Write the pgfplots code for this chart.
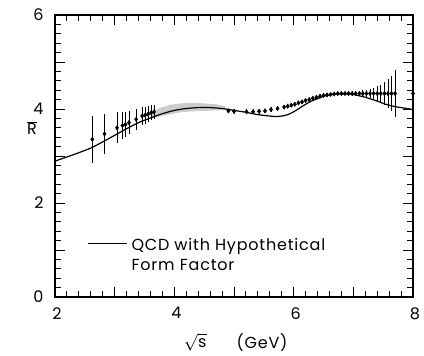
\documentclass[border=0pt]{standalone}
\usepackage{pgfplots}
\pgfplotsset{compat=1.18}
\usepackage{fontspec}
\setmainfont{Poppins}
\newfontfamily\legfont[LetterSpace=5]{Poppins}
\begin{document}
\fontsize{16}{19}\selectfont
\begin{tikzpicture}
\begin{axis}[
  at={(0,0)}, anchor=south west,
  scale only axis, width=358pt, height=282pt,
  xmin=2, xmax=8, ymin=0, ymax=6,
  clip=false,
  axis line style={line width=1.1pt},
  xtick={2,3,4,5,6,7,8}, xticklabels={2,,4,,6,,8},
  ytick={0,1,2,3,4,5,6}, yticklabels={0,,2,,4,,6},
  minor x tick num=4, minor y tick num=4,
  major tick length=10pt, minor tick length=6pt,
  tick style={line width=0.9pt, black},
  tick align=inside,
  /pgf/number format/assume math mode=true,
  ticklabel style={font=\fontsize{16}{18}\selectfont},
  xticklabel style={yshift=-5pt, xshift=2pt},
  yticklabel style={xshift=-6pt},
]
% shaded band
\addplot[fill=gray!40, draw=none] coordinates {
(3.62,3.93) (3.75,4.02) (3.9,4.08) (4.1,4.12) (4.3,4.13) (4.5,4.12) (4.7,4.10) (4.85,4.06)
(4.85,3.98) (4.7,3.97) (4.5,3.96) (4.3,3.95) (4.1,3.93) (3.9,3.88) (3.75,3.84) (3.62,3.80)
};
% QCD curve
\addplot[black, line width=1.2pt, smooth] coordinates {
(2.0,2.89) (2.2,2.98) (2.4,3.07) (2.6,3.17) (2.8,3.30) (3.0,3.44) (3.2,3.58) (3.4,3.71)
(3.6,3.81) (3.8,3.90) (4.0,3.97) (4.2,4.01) (4.4,4.03) (4.6,4.03) (4.8,4.01) (5.0,3.97)
(5.2,3.93) (5.4,3.88) (5.6,3.85) (5.7,3.84) (5.8,3.85) (5.9,3.88) (6.0,3.94) (6.1,4.02)
(6.2,4.10) (6.3,4.17) (6.4,4.22) (6.5,4.27) (6.6,4.30) (6.7,4.32) (6.8,4.32) (6.9,4.32)
(7.0,4.31) (7.1,4.28) (7.2,4.25) (7.3,4.21) (7.4,4.17) (7.5,4.12) (7.6,4.08) (7.7,4.05)
(7.8,4.03) (7.9,4.01) (8.0,3.99)
};
% data points
\addplot[only marks, mark=diamond*, mark size=2.2pt, black,
  error bars/.cd, y dir=both, y explicit, error mark=none,
  error bar style={line width=0.8pt, black}]
coordinates {
(2.625,3.355) +- (0,0.50)
(2.83,3.47) +- (0,0.42)
(3.04,3.60) +- (0,0.33)
(3.13,3.65) +- (0,0.29)
(3.18,3.67) +- (0,0.27)
(3.24,3.71) +- (0,0.25)
(3.36,3.78) +- (0,0.22)
(3.46,3.85) +- (0,0.20)
(3.51,3.87) +- (0,0.18)
(3.56,3.89) +- (0,0.17)
(3.61,3.92) +- (0,0.16)
(3.66,3.94) +- (0,0.15)
(4.905,3.96) +- (0,0.05)
(5.00,3.95) +- (0,0.05)
(5.21,3.94) +- (0,0.05)
(5.32,3.94) +- (0,0.05)
(5.42,3.95) +- (0,0.05)
(5.52,3.96) +- (0,0.05)
(5.62,3.99) +- (0,0.05)
(5.73,4.01) +- (0,0.05)
(5.84,4.04) +- (0,0.04)
(5.90,4.06) +- (0,0.04)
(5.96,4.08) +- (0,0.04)
(6.02,4.10) +- (0,0.04)
(6.08,4.13) +- (0,0.04)
(6.14,4.15) +- (0,0.04)
(6.20,4.18) +- (0,0.04)
(6.26,4.20) +- (0,0.04)
(6.32,4.23) +- (0,0.04)
(6.38,4.25) +- (0,0.04)
(6.44,4.27) +- (0,0.04)
(6.50,4.29) +- (0,0.04)
(6.56,4.30) +- (0,0.04)
(6.62,4.31) +- (0,0.04)
(6.68,4.32) +- (0,0.04)
(6.74,4.33) +- (0,0.04)
(6.80,4.33) +- (0,0.04)
(6.86,4.33) +- (0,0.04)
(6.92,4.33) +- (0,0.04)
(6.98,4.33) +- (0,0.05)
(7.04,4.33) +- (0,0.05)
(7.10,4.33) +- (0,0.06)
(7.16,4.33) +- (0,0.07)
(7.22,4.33) +- (0,0.08)
(7.28,4.33) +- (0,0.10)
(7.34,4.33) +- (0,0.12)
(7.40,4.33) +- (0,0.15)
(7.46,4.33) +- (0,0.19)
(7.52,4.33) +- (0,0.24)
(7.58,4.33) +- (0,0.30)
(7.64,4.33) +- (0,0.38)
(7.70,4.33) +- (0,0.50)
(8.00,4.33) +- (0,1.33)
};
% legend
\draw[line width=1.2pt] (axis cs:2.55,1.14) -- (axis cs:3.20,1.14);
\node[anchor=base west, inner sep=0pt, font=\legfont] at (axis cs:3.28,0.99) {QCD with Hypothetical};
\node[anchor=base west, inner sep=0pt, font=\legfont] at (axis cs:3.28,0.57) {Form Factor};
% axis labels
\node[font=\legfont, inner sep=1pt] at (axis cs:4.35,-0.97) {$\sqrt{\mbox{s}}$};
\node[font=\legfont, inner sep=1pt] at (axis cs:5.47,-0.97) {(GeV)};
\node at (axis cs:1.615,3.6) {$\overline{\mbox{R}}$};
\end{axis}
\pgfresetboundingbox
\path[use as bounding box] (-55pt,-59pt) rectangle (369pt,297pt);
\end{tikzpicture}
\end{document}
